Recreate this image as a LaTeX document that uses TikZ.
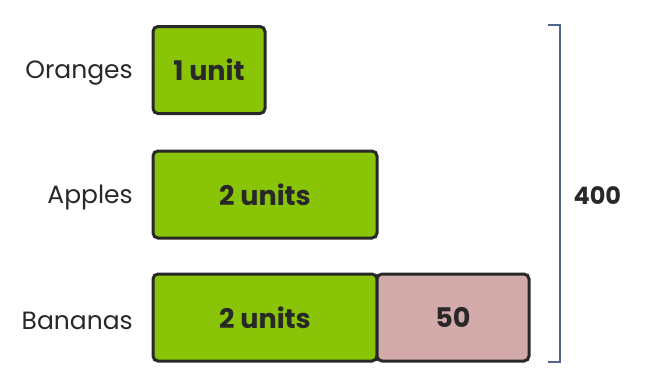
\documentclass[tikz,border=0pt]{standalone}
\usepackage{fontspec}
\setmainfont{Poppins}
\usetikzlibrary{positioning}
\definecolor{FruitGreen}{RGB}{137,197,6}
\definecolor{FruitPink}{RGB}{210,170,170}
\definecolor{FruitEdge}{RGB}{40,40,40}
\definecolor{BraceBlue}{RGB}{78,101,140}
\begin{document}
\begin{tikzpicture}[x=1pt,y=-1pt,
node distance=20pt,
unit/.style={rectangle,rounded corners=5pt,draw=FruitEdge,line width=3pt,fill=FruitGreen,
minimum height=87pt,inner sep=0pt,outer sep=0pt,font=\fontsize{27}{30}\selectfont\bfseries,text=FruitEdge},
extra/.style={unit,fill=FruitPink},
fruit/.style={font=\fontsize{25}{28}\selectfont\fontseries{l}\selectfont,text=FruitEdge,inner sep=0pt},
bracket/.style={line width=2.5pt,draw=BraceBlue}
]
\useasboundingbox (0,0) rectangle (646,388);
\node[unit,anchor=west,minimum width=112pt] (o) at (153,70) {1 unit};
\node[unit,anchor=west,minimum width=224pt] (a) at (153,194.5) {2 units};
\node[unit,anchor=west,minimum width=224pt] (b) at (153,317.5) {2 units};
\node[extra,minimum width=152pt,right=0pt of b] (b2) {50};
\node[fruit,left=of o,yshift=-3pt] (lo) {Oranges};
\node[fruit,left=of a,yshift=-3pt] (la) {Apples};
\node[fruit,left=of b,yshift=-3pt] (lb) {Bananas};
\coordinate (t) at (548,25); \coordinate (tr) at (560,25);
\coordinate (br) at (560,362); \coordinate (bl) at (548,362);
\draw[bracket] (t)--(tr)--(br)--(bl);
\node[font=\fontsize{24}{27}\selectfont\bfseries,text=FruitEdge,anchor=west] (sum) at (570,196) {400};
\end{tikzpicture}
\end{document}
